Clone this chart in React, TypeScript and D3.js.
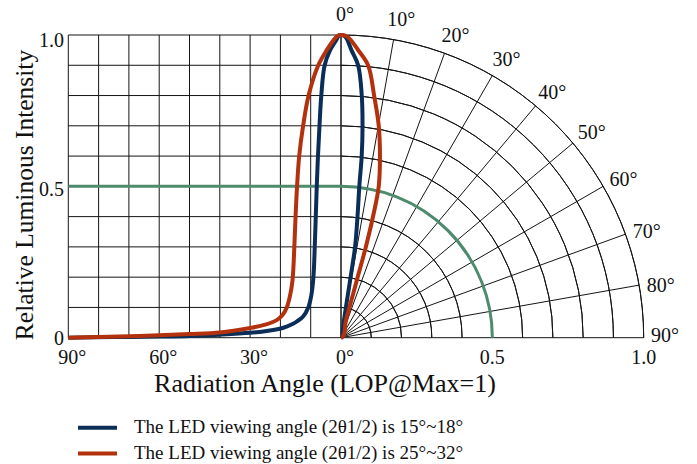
import React from "react";
import * as d3 from "d3";

// ---------- data ----------
// Cartesian half (left): angle in degrees vs relative intensity
const navyAngles = [0, 0.8, 1.6, 3.6, 5.4, 6.5, 7.1, 7.6, 8.0, 8.6, 9.1, 9.8, 10.8, 12.5, 14.4, 16, 19, 24, 30, 40, 50, 60, 75, 90];
const navyIntensity = [1.0, 0.997, 0.983, 0.95, 0.9, 0.8, 0.7, 0.6, 0.5, 0.32, 0.2, 0.14, 0.1, 0.07, 0.055, 0.045, 0.033, 0.023, 0.016, 0.01, 0.006, 0.004, 0.002, 0];
const redAngles = [0, 1.2, 2.3, 4.7, 7.5, 10.7, 12.5, 13.8, 14.5, 15.0, 15.4, 16.0, 16.8, 17.9, 19.3, 21.2, 25, 30, 40, 50, 60, 70, 80, 90];
const redIntensity = [1.0, 0.997, 0.985, 0.95, 0.9, 0.8, 0.7, 0.6, 0.5, 0.4, 0.3, 0.19, 0.14, 0.1, 0.075, 0.058, 0.043, 0.032, 0.017, 0.012, 0.008, 0.005, 0.002, 0];

// Polar half (right)
const navyPolarAngles = [0, 0.8, 2.1, 3.6, 4.9, 5.8, 6.5, 6.9, 7.8, 8.8, 9.0, 9.2, 10, 15, 30, 60, 90];
const navyPolarIntensity = [1, 0.995, 0.95, 0.902, 0.803, 0.704, 0.604, 0.504, 0.4, 0.304, 0.19, 0.1, 0.05, 0.02, 0.01, 0.003, 0];
const redPolarAngles = [0, 1.2, 3.4, 5.7, 7.8, 10.1, 12.1, 14.0, 14.8, 15.3, 15.4, 15.6, 17, 25, 40, 60, 90];
const redPolarIntensity = [1, 0.995, 0.952, 0.904, 0.807, 0.711, 0.614, 0.515, 0.414, 0.311, 0.197, 0.1, 0.05, 0.03, 0.015, 0.006, 0];

const halfLevel = 0.5;

// ticks / labels
const angleGrid = [0, 10, 20, 30, 40, 50, 60, 70, 80, 90];
const intensityGrid = [0, 0.1, 0.2, 0.3, 0.4, 0.5, 0.6, 0.7, 0.8, 0.9, 1.0];
const leftAngleTicks = [90, 60, 30, 0];
const yTicks = [
  { v: 1.0, label: "1.0" },
  { v: 0.5, label: "0.5" },
  { v: 0, label: "0" },
];
const radialTicks = [
  { v: 0.5, label: "0.5" },
  { v: 1.0, label: "1.0" },
];
const legendItems = [
  { label: "The LED viewing angle (2θ1/2) is 15°~18°", color: "#0b2e58" },
  { label: "The LED viewing angle (2θ1/2) is 25°~32°", color: "#b3310d" },
];

const NAVY = "#0b2e58";
const RED = "#b3310d";
const GREEN = "#4d8b6c";
const GRID = "#141414";
const FONT = "'Liberation Serif', 'Times New Roman', serif";

export default function App() {
  const W = 697;
  const H = 464;
  const cx = 341;
  const cy = 337.7;
  const R = 302.7;

  const x = d3.scaleLinear().domain([90, 0]).range([68.3, cx]);
  const y = d3.scaleLinear().domain([0, 1]).range([cy, cy - R]);
  const r = d3.scaleLinear().domain([0, 1]).range([0, R]);
  const rad = (deg: number) => (deg * Math.PI) / 180;

  const px = d3
    .line<[number, number]>()
    .x((d) => d[0])
    .y((d) => d[1])
    .curve(d3.curveCatmullRom.alpha(0.5));

  // one continuous path: cartesian half (90° → 0°) then polar half (0° → 90°)
  const buildPath = (la: number[], li: number[], pa: number[], pi: number[]) => {
    const left = la.map((a, i) => [x(a), y(li[i])] as [number, number]).reverse();
    const right = pa
      .map((a, i) => [cx + r(pi[i]) * Math.sin(rad(a)), cy - r(pi[i]) * Math.cos(rad(a))] as [number, number])
      .slice(1);
    return px([...left, ...right]) as string;
  };

  const arc = (level: number) =>
    d3.arc()({
      innerRadius: r(level),
      outerRadius: r(level),
      startAngle: 0,
      endAngle: Math.PI / 2,
    }) as string;

  const series = [
    { d: buildPath(navyAngles, navyIntensity, navyPolarAngles, navyPolarIntensity), color: NAVY },
    { d: buildPath(redAngles, redIntensity, redPolarAngles, redPolarIntensity), color: RED },
  ];

  const labelR = 324;
  const labelAngle = (a: number) => (a === 90 ? 89.5 : a + 0.7);

  return (
    <svg
      width={W}
      height={H}
      viewBox={`0 0 ${W} ${H}`}
      style={{ position: "absolute", left: 0, top: 0, background: "#fff" }}
      fontFamily={FONT}
    >
      {/* left cartesian grid */}
      <g stroke={GRID} strokeWidth={1} fill="none">
        {angleGrid.map((a) => (
          <line key={"v" + a} x1={x(a)} x2={x(a)} y1={y(0)} y2={y(1)} />
        ))}
        {intensityGrid.map((v) => (
          <line key={"h" + v} x1={x(90)} x2={x(0)} y1={y(v)} y2={y(v)} />
        ))}
      </g>

      {/* right polar grid */}
      <g transform={`translate(${cx},${cy})`} stroke={GRID} strokeWidth={1} fill="none">
        {intensityGrid.filter((v) => v > 0).map((v) => (
          <path key={"a" + v} d={arc(v)} />
        ))}
        {angleGrid.map((a) => (
          <line key={"r" + a} x1={0} y1={0} x2={r(1) * Math.sin(rad(a))} y2={-r(1) * Math.cos(rad(a))} />
        ))}
      </g>

      {/* green half-intensity guide */}
      <g stroke={GREEN} strokeWidth={3} fill="none">
        <line x1={x(90)} x2={x(0)} y1={y(halfLevel)} y2={y(halfLevel)} />
        <path transform={`translate(${cx},${cy})`} d={arc(halfLevel)} />
      </g>

      {/* curves */}
      {series.map((s, i) => (
        <path key={i} d={s.d} stroke={s.color} strokeWidth={4} fill="none" strokeLinejoin="round" />
      ))}

      {/* y tick labels */}
      <g fontSize={20} fill="#111" textAnchor="end">
        {yTicks.map((t) => (
          <text key={t.label} x={64} y={y(t.v) + (t.v === 1 ? 12 : t.v === 0 ? 7 : 9.5)}>
            {t.label}
          </text>
        ))}
      </g>

      {/* bottom tick labels */}
      <g fontSize={20} fill="#111" textAnchor="middle">
        {leftAngleTicks.map((a) => (
          <text key={a} x={x(a) + 4} y={364}>
            {a}°
          </text>
        ))}
        {radialTicks.map((t) => (
          <text key={t.label} x={cx + r(t.v)} y={364}>
            {t.label}
          </text>
        ))}
      </g>

      {/* polar angle labels */}
      <g fontSize={20} fill="#111" textAnchor="middle" dominantBaseline="central">
        {angleGrid.map((a) => (
          <text
            key={a}
            x={cx + labelR * Math.sin(rad(labelAngle(a)))}
            y={cy - labelR * Math.cos(rad(labelAngle(a)))}
          >
            {a}°
          </text>
        ))}
      </g>

      {/* axis titles */}
      <text
        transform="translate(33,195) rotate(-90)"
        textAnchor="middle"
        fontSize={25.5}
        fill="#111"
      >
        Relative Luminous Intensity
      </text>
      <text x={325} y={392} textAnchor="middle" fontSize={26} fill="#111">
        Radiation Angle (LOP@Max=1)
      </text>

      {/* legend */}
      {legendItems.map((it, i) => (
        <g key={i} transform={`translate(0,${427.7 + i * 25.8})`}>
          <line x1={78} x2={117} y1={0} y2={0} stroke={it.color} strokeWidth={4} />
          <text x={134} y={5} fontSize={19} fill="#111">
            {it.label}
          </text>
        </g>
      ))}
    </svg>
  );
}
